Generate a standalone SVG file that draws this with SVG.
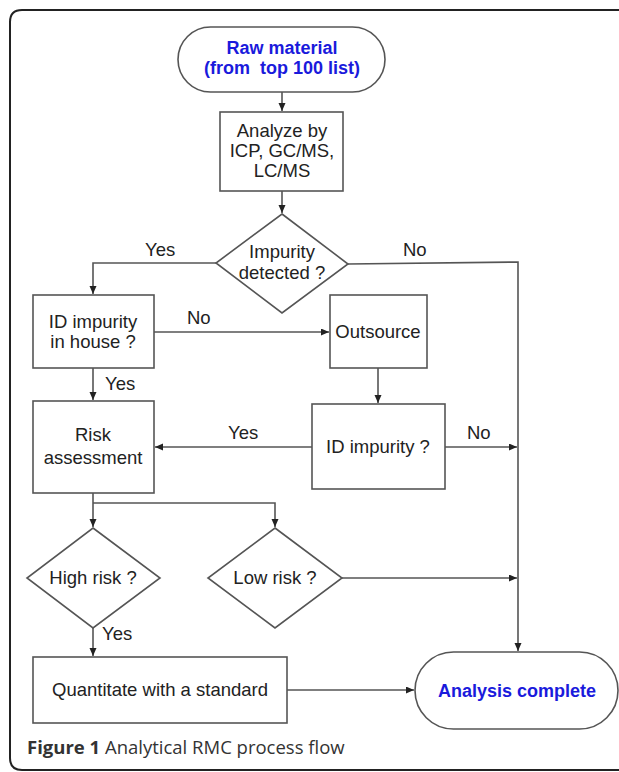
<svg xmlns="http://www.w3.org/2000/svg" width="619" height="772" viewBox="0 0 619 772">
<style>
.box{fill:#fff;stroke:#555;stroke-width:1.6}
.t{font-family:"Liberation Sans",Arial,sans-serif;font-size:18.5px;fill:#222;text-anchor:middle}
.b{font-family:"Liberation Sans",Arial,sans-serif;font-size:18px;font-weight:bold;fill:#1a1adc;text-anchor:middle}
.lbl{font-family:"Liberation Sans",Arial,sans-serif;font-size:18.5px;fill:#222}
.c{fill:none;stroke:#555;stroke-width:1.6}
.cap{font-family:"Open Sans","Noto Sans",sans-serif;font-size:18.5px;fill:#333}
</style>
<defs>
<marker id="ah" markerUnits="userSpaceOnUse" markerWidth="9" markerHeight="8" refX="8" refY="3.5" orient="auto">
<path d="M0,0 L8,3.5 L0,7 z" fill="#222"/>
</marker>
</defs>
<rect x="0" y="0" width="619" height="772" fill="#fff"/>
<path d="M630,10 L22,10 Q10,10 10,22 L10,758 Q10,770 22,770 L630,770" fill="none" stroke="#222" stroke-width="2"/>

<g id="connectors">
<path class="c" d="M282,92 L282,111" marker-end="url(#ah)"/>
<path class="c" d="M282,191 L282,213" marker-end="url(#ah)"/>
<path class="c" d="M216,263 L93,263 L93,294" marker-end="url(#ah)"/>
<path class="c" d="M348,264 L518,262 L518,651" marker-end="url(#ah)"/>
<path class="c" d="M154,332 L329,332" marker-end="url(#ah)"/>
<path class="c" d="M93,368 L93,400" marker-end="url(#ah)"/>
<path class="c" d="M378,368 L378,403" marker-end="url(#ah)"/>
<path class="c" d="M312,447 L155,447" marker-end="url(#ah)"/>
<path class="c" d="M445,447 L517,447" marker-end="url(#ah)"/>
<path class="c" d="M93,493 L93,527" marker-end="url(#ah)"/>
<path class="c" d="M93,503 L275,503 L275,527" marker-end="url(#ah)"/>
<path class="c" d="M342,578 L517,578" marker-end="url(#ah)"/>
<path class="c" d="M93,628 L93,656" marker-end="url(#ah)"/>
<path class="c" d="M287,690 L414,690" marker-end="url(#ah)"/>
<text class="lbl" x="145" y="256">Yes</text>
<text class="lbl" x="403" y="256">No</text>
<text class="lbl" x="187" y="324">No</text>
<text class="lbl" x="105" y="390">Yes</text>
<text class="lbl" x="228" y="439">Yes</text>
<text class="lbl" x="467" y="439">No</text>
<text class="lbl" x="102" y="640">Yes</text>
</g>

<g id="start">
<rect class="box" x="178" y="27" width="207" height="65" rx="32.5"/>
<text class="b" x="282" y="54">Raw material</text>
<text class="b" x="282" y="74" xml:space="preserve">(from  top 100 list)</text>
</g>

<g id="analyze">
<rect class="box" x="220" y="112" width="123" height="79"/>
<text class="t" x="282" y="137">Analyze by</text>
<text class="t" x="282" y="157">ICP, GC/MS,</text>
<text class="t" x="282" y="177">LC/MS</text>
</g>

<g id="impurity-detected">
<polygon class="box" points="282,214 348,264 282,313 216,263"/>
<text class="t" x="282" y="258">Impurity</text>
<text class="t" x="282" y="279">detected ?</text>
</g>

<g id="id-in-house">
<rect class="box" x="33" y="295" width="121" height="73"/>
<text class="t" x="93" y="328">ID impurity</text>
<text class="t" x="93" y="348">in house ?</text>
</g>

<g id="outsource">
<rect class="box" x="330" y="295" width="97" height="73"/>
<text class="t" x="378" y="338">Outsource</text>
</g>

<g id="risk-assessment">
<rect class="box" x="33" y="401" width="121" height="92"/>
<text class="t" x="93" y="441">Risk</text>
<text class="t" x="93" y="464">assessment</text>
</g>

<g id="id-impurity">
<rect class="box" x="312" y="404" width="133" height="85"/>
<text class="t" x="378" y="453">ID impurity ?</text>
</g>

<g id="high-risk">
<polygon class="box" points="93,528 160,578 93,628 27,578"/>
<text class="t" x="93" y="584">High risk ?</text>
</g>

<g id="low-risk">
<polygon class="box" points="275,528 342,578 275,628 208,578"/>
<text class="t" x="275" y="584">Low risk ?</text>
</g>

<g id="quantitate">
<rect class="box" x="33" y="657" width="254" height="66"/>
<text class="t" x="160" y="696">Quantitate with a standard</text>
</g>

<g id="analysis-complete">
<rect class="box" x="415" y="652" width="203" height="77" rx="38.5"/>
<text class="b" x="517" y="697">Analysis complete</text>
</g>

<text class="cap" x="27" y="754"><tspan font-weight="bold">Figure 1</tspan> Analytical RMC process flow</text>
</svg>
